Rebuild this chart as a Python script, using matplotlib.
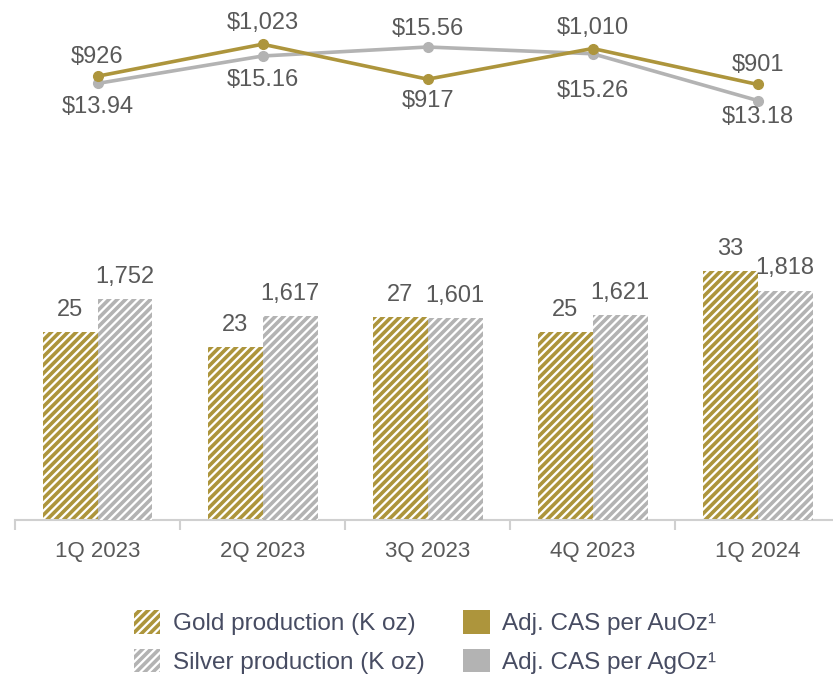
import matplotlib.pyplot as plt
from matplotlib.patches import Patch

plt.rcParams['font.family'] = ['Liberation Sans', 'DejaVu Sans']
plt.rcParams['hatch.linewidth'] = 2.6

quarters = ['1Q 2023', '2Q 2023', '3Q 2023', '4Q 2023', '1Q 2024']
gold_prod = [25, 23, 27, 25, 33]
silver_prod = [1752, 1617, 1601, 1621, 1818]
gold_cas = [926, 1023, 917, 1010, 901]
silver_cas = [13.94, 15.16, 15.56, 15.26, 13.18]

GOLD = '#ad953c'
SILVER = '#b3b3b3'
TXT = '#595959'
LEG = '#474c62'
HATCH = '////'

W, H = 833, 676
fig = plt.figure(figsize=(W / 100, H / 100), dpi=100)

# bar panel
ax = fig.add_axes([15 / W, (H - 520) / H, 817 / W, 290 / H])
ax2 = ax.twinx()
x = list(range(len(quarters)))
bw = 0.333
ax.bar([i - bw / 2 for i in x], gold_prod, bw, color='white', edgecolor=GOLD,
       hatch=HATCH, linewidth=0)
ax2.bar([i + bw / 2 for i in x], silver_prod, bw, color='white', edgecolor=SILVER,
        hatch=HATCH, linewidth=0)
ax.set_xlim(-0.5, 4.45)
ax.set_ylim(0, 38.5)
ax2.set_ylim(0, 2298)
for i, v in enumerate(gold_prod):
    ax.annotate(f'{v}', (i - bw / 2, v), xytext=(0, 8), textcoords='offset points',
                ha='center', va='bottom', fontsize=17, color=TXT)
for i, v in enumerate(silver_prod):
    ax2.annotate(f'{v:,}', (i + bw / 2, v), xytext=(0, 8), textcoords='offset points',
                 ha='center', va='bottom', fontsize=17, color=TXT)

for a in (ax, ax2):
    for s in ('top', 'right', 'left', 'bottom'):
        a.spines[s].set_visible(False)
    a.set_yticks([])
ax.spines['bottom'].set_visible(True)
ax.spines['bottom'].set_color('#d0d0d0')
ax.spines['bottom'].set_linewidth(1.5)
ax.set_xticks(x)
ax.set_xticklabels(quarters, fontsize=16, color=TXT)
ax.tick_params(axis='x', length=0, pad=15)
ax.set_xticks([i - 0.5 for i in x], minor=True)
ax.tick_params(axis='x', which='minor', length=7, width=1.5, color='#d0d0d0')

# line panel
lx = fig.add_axes([15 / W, (H - 130) / H, 817 / W, 130 / H])
lx2 = lx.twinx()
lx.set_xlim(-0.5, 4.45)
lx2.set_xlim(-0.5, 4.45)
lx.set_ylim(763, 1157)
lx2.set_ylim(11.87, 17.65)
lx2.plot(x, silver_cas, color=SILVER, lw=2.6, marker='o', ms=7, zorder=2)
lx.plot(x, gold_cas, color=GOLD, lw=2.6, marker='o', ms=7, zorder=3)
lx.set_zorder(lx2.get_zorder() + 1)
lx.patch.set_visible(False)
for a in (lx, lx2):
    a.axis('off')

gold_off = [14, 15, -16, 15, 14]
silver_off = [-17, -17, 13, -27, -12]
for i, v in enumerate(gold_cas):
    lx.annotate(f'${v:,}', (i, v), xytext=(0, gold_off[i]), textcoords='offset points',
                ha='center', va='center', fontsize=17, color=TXT)
for i, v in enumerate(silver_cas):
    lx2.annotate(f'${v:.2f}', (i, v), xytext=(0, silver_off[i]), textcoords='offset points',
                 ha='center', va='center', fontsize=17, color=TXT)

handles = [
    Patch(facecolor='white', edgecolor=GOLD, hatch=HATCH, linewidth=0),
    Patch(facecolor='white', edgecolor=SILVER, hatch=HATCH, linewidth=0),
    Patch(facecolor=GOLD),
    Patch(facecolor=SILVER),
]
labels = ['Gold production (K oz)', 'Silver production (K oz)',
          'Adj. CAS per AuOz\u00b9', 'Adj. CAS per AgOz\u00b9']
leg = fig.legend(handles, labels, ncol=2, loc='center', bbox_to_anchor=(0.51, (H - 642) / H),
                 frameon=False, fontsize=17.5, handlelength=1.1, handleheight=1.1,
                 columnspacing=1.6, labelspacing=0.55, handletextpad=0.5)
for t in leg.get_texts():
    t.set_color(LEG)

fig.savefig('out.png', dpi=100)
